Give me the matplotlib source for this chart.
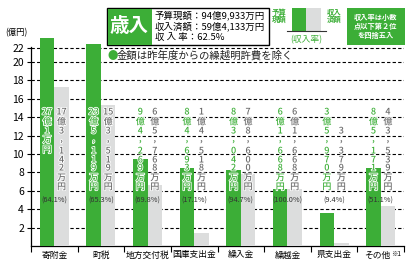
import numpy as np
import matplotlib
matplotlib.use("Agg")
import matplotlib.pyplot as plt
import matplotlib.patheffects as pe
from matplotlib.patches import Rectangle
from matplotlib.transforms import blended_transform_factory

plt.rcParams['font.family'] = ['Noto Sans CJK JP', 'DejaVu Sans']

# 単位: 万円
categories = ["寄附金", "町税", "地方交付税", "国庫支出金", "繰入金", "繰越金", "県支出金", "その他"]
budget = [270001, 235119, 94269, 84693, 83042, 61668, 35970, 85171]
received = [173142, 153519, 65768, 14518, 78600, 61668, 3379, 43539]
rates = ["64.1", "65.3", "69.8", "17.1", "94.7", "100.0", "9.4", "51.1"]
yticks = [2, 4, 6, 8, 10, 12, 14, 16, 18, 20, 22]

GREEN = "#3cae37"
GREY = "#dcdddd"
W, H = 412, 266

# 20億円より上は圧縮表示
A, B = 1.016, 0.6
def fwd(v):
    v = np.asarray(v, float)
    over = np.maximum(v - 20, 0)
    return np.where(v <= 20, v, 20 + A * np.log1p(over / B))

def inv(f):
    f = np.asarray(f, float)
    over = np.clip((f - 20) / A, 0, 50)
    return np.where(f <= 20, f, 20 + B * np.expm1(over))

fig = plt.figure(figsize=(W / 100, H / 100), dpi=100)
ax = fig.add_axes([31 / W, (H - 246) / H, (404 - 31) / W, (246 - 36) / H])
ax.set_yscale("function", functions=(fwd, inv))
ax.set_ylim(0, 29.1)
ax.set_xlim(-0.5, len(categories) - 0.5)

x = np.arange(len(categories))
bw = 0.31
ax.bar(x - bw / 2, [b / 10000 for b in budget], bw, color=GREEN, zorder=3)
ax.bar(x + bw / 2, [r / 10000 for r in received], bw, color=GREY, zorder=3)

for t in yticks:
    ax.axhline(t, color="black", lw=0.8, ls=(0, (3, 2)), zorder=1)

ax.set_yticks(yticks)
ax.set_yticklabels([str(t) for t in yticks], fontsize=7.5)
ax.tick_params(axis="y", length=3, width=0.8, pad=2)
ax.set_xticks(x)
ax.set_xticklabels([])
ax.set_xticks(np.arange(-0.5, len(categories)), minor=True)
ax.tick_params(axis="x", which="major", length=0)
ax.tick_params(axis="x", which="minor", length=4, width=0.8, direction="out")
for s in ["top", "right"]:
    ax.spines[s].set_visible(False)
ax.spines["left"].set_bounds(0, 22.4)
ax.spines["left"].set_linewidth(0.9)
ax.spines["bottom"].set_linewidth(0.9)

tr = blended_transform_factory(ax.transData, fig.transFigure)

def fy(py):
    return 1 - py / H

def tokens(v):
    oku, man = divmod(v, 10000)
    if man < 1000:
        out = [str(oku), "億", str(man), "万", "円"]
        return list(zip(out, [112, 122, 131, 140, 150]))
    head = []
    if oku > 0:
        head = [(str(oku), 112), ("億", 122)]
    rest = f"{man % 1000:03d}"
    return head + [(str(man // 1000), 131), (",", 139), (rest[0], 151),
                   (rest[1], 160), (rest[2], 168), ("万", 178), ("円", 187)]

stroke = [pe.withStroke(linewidth=1.2, foreground="white")]
for i in range(len(categories)):
    for vals, off, col in [(budget, -bw / 2, GREEN), (received, bw / 2, "#6a6a6a")]:
        for ch, py in tokens(vals[i]):
            ax.text(i + off, fy(py), ch, transform=tr, ha="center", va="center",
                    fontsize=6.5, color=col, fontweight="medium", path_effects=stroke,
                    zorder=5)
    ax.text(i, fy(201), f"({rates[i]}%)", transform=tr, ha="center", va="center",
            fontsize=5.3, color="#333333", zorder=5)
    if i < len(categories) - 1:
        ax.text(i, fy(255), categories[i], transform=tr, ha="center", va="center",
                fontsize=6.3)
ax.text(len(categories) - 1 + 0.2, fy(255), categories[-1], transform=tr,
        ha="right", va="center", fontsize=6.3)
ax.text(len(categories) - 1 + 0.22, fy(254), "※1", transform=tr,
        ha="left", va="center", fontsize=4.6)

def px(xp, yp):
    return xp / W, 1 - yp / H

def rect(x0, y0, x1, y1, **kw):
    fig.add_artist(Rectangle(px(x0, y1), (x1 - x0) / W, (y1 - y0) / H,
                             transform=fig.transFigure, **kw))

fig.text(*px(16, 33), "(億円)", ha="center", va="center", fontsize=6)

# 歳入 box
rect(107, 8, 269, 45, facecolor="white", edgecolor="black", lw=1)
rect(107.5, 8.5, 152, 44.5, facecolor=GREEN, edgecolor="none")
fig.text(*px(129.5, 27), "歳入", ha="center", va="center", fontsize=14,
         color="white", fontweight="bold")
for line, yp in [("予算現額：94億9,933万円", 15), ("収入済額：59億4,133万円", 26.5),
                 ("収 入 率：62.5%", 38)]:
    fig.text(*px(155, yp), line, ha="left", va="center", fontsize=6.8)

# 凡例
rect(292, 8, 306, 31, facecolor=GREEN, edgecolor="none")
rect(306, 8, 321, 31, facecolor=GREY, edgecolor="none")
fig.add_artist(plt.Line2D([287 / W, 326 / W], [fy(31), fy(31)], color="#333333",
                          lw=0.8, transform=fig.transFigure))
fig.text(*px(279, 16), "予算\n現額", ha="center", va="center", fontsize=5.3,
         color=GREEN, fontweight="bold", linespacing=1.0)
fig.text(*px(334, 16), "収入\n済額", ha="center", va="center", fontsize=5.3,
         color=GREEN, fontweight="bold", linespacing=1.0)
fig.text(*px(306, 40), "(収入率)", ha="center", va="center", fontsize=6.3,
         color=GREEN)

rect(347, 8, 405, 45, facecolor=GREEN, edgecolor="none")
fig.text(*px(376, 26.5), "収入率は小数\n点以下第２位\nを四捨五入", ha="center",
         va="center", fontsize=5.2, color="white", fontweight="bold", linespacing=1.25)

fig.text(*px(107, 55.5), "●", ha="left", va="center", fontsize=7.5, color=GREEN)
fig.text(*px(117, 55.5), "金額は昨年度からの繰越明許費を除く", ha="left", va="center",
         fontsize=7.5, color="#222222")

fig.savefig("out.png", dpi=100)
